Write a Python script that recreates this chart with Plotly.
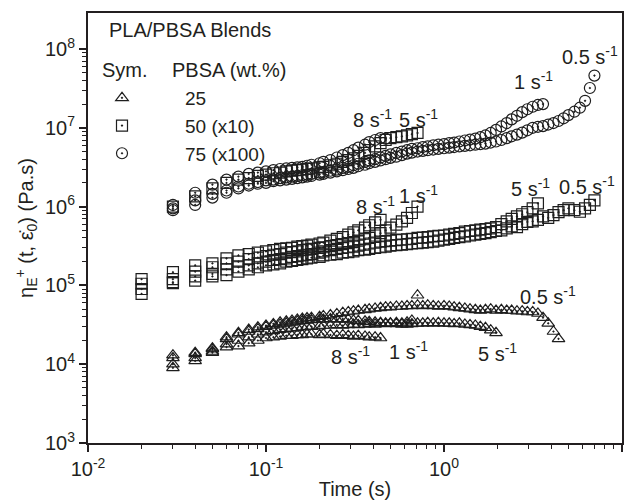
import plotly.graph_objects as go

# shared time grid (s)
T = [0.02, 0.03, 0.04, 0.05, 0.06, 0.07, 0.08, 0.09, 0.10, 0.11, 0.12, 0.13, 0.14, 0.15,
     0.16, 0.17, 0.18, 0.20, 0.21, 0.23, 0.25, 0.27, 0.29, 0.31, 0.33, 0.36, 0.38, 0.41,
     0.44, 0.47, 0.50, 0.54, 0.58, 0.62, 0.66, 0.71, 0.76, 0.81, 0.87, 0.93, 1.00, 1.07,
     1.14, 1.22, 1.31, 1.40, 1.50, 1.60, 1.71, 1.83, 1.96, 2.10, 2.25, 2.40, 2.57, 2.75,
     2.94, 3.15, 3.37, 3.60, 3.85, 4.12, 4.40, 4.70, 5.00, 5.40, 5.80, 6.20, 6.60, 7.00]

# PBSA 25 wt.% (triangles)
tri_8 = [None, 0.9e4, 1.1e4, 1.4e4, 1.65e4, 1.7e4, 1.85e4, 2.0e4, 2.15e4, 2.2e4, 2.25e4, 2.3e4,
         2.3e4, 2.35e4, 2.35e4, 2.4e4, 2.4e4, 2.35e4, 2.4e4, 2.35e4, 2.3e4, 2.35e4, 2.3e4,
         2.25e4, 2.3e4, 2.25e4, 2.2e4, 2.2e4, 2.15e4]
tri_1 = [None, 1.0e4, 1.2e4, 1.45e4, 1.8e4, 2.0e4, 2.2e4, 2.4e4, 2.55e4, 2.65e4, 2.75e4, 2.8e4,
         2.85e4, 2.9e4, 2.95e4, 3.0e4, 3.0e4, 3.05e4, 3.1e4, 3.1e4, 3.15e4, 3.1e4, 3.15e4,
         3.2e4, 3.15e4, 3.2e4, 3.25e4, 3.2e4, 3.3e4, 3.25e4, 3.3e4, 3.35e4, 3.3e4, 3.4e4,
         3.6e4, 7.5e4]
tri_5 = [None, 1.2e4, 1.35e4, 1.55e4, 2.1e4, 2.4e4, 2.6e4, 2.8e4, 3.0e4, 3.1e4, 3.2e4, 3.3e4,
         3.4e4, 3.5e4, 3.55e4, 3.6e4, 3.65e4, 3.7e4, 3.7e4, 3.75e4, 3.7e4, 3.75e4, 3.7e4,
         3.6e4, 3.55e4, 3.5e4, 3.45e4, 3.4e4, 3.35e4, 3.3e4, 3.3e4, 3.25e4, 3.2e4, 3.2e4,
         3.25e4, 3.3e4, 3.3e4, 3.35e4, 3.3e4, 3.35e4, 3.3e4, 3.3e4, 3.25e4, 3.3e4, 3.2e4,
         3.15e4, 3.1e4, 3.0e4, 2.9e4, 2.7e4, 2.5e4]
tri_05 = [None, 1.3e4, 1.4e4, 1.6e4, 2.2e4, 2.5e4, 2.75e4, 2.95e4, 3.1e4, 3.25e4, 3.4e4, 3.5e4,
          3.6e4, 3.7e4, 3.8e4, 3.85e4, 3.9e4, 4.0e4, 4.1e4, 4.2e4, 4.35e4, 4.5e4, 4.6e4,
          4.7e4, 4.8e4, 4.9e4, 5.0e4, 5.1e4, 5.2e4, 5.3e4, 5.3e4, 5.4e4, 5.4e4, 5.5e4,
          5.5e4, 5.6e4, 5.5e4, 5.6e4, 5.5e4, 5.4e4, 5.5e4, 5.4e4, 5.3e4, 5.2e4, 5.1e4,
          5.0e4, 4.9e4, 4.8e4, 4.9e4, 5.0e4, 4.8e4, 4.9e4, 4.8e4, 4.8e4, 4.7e4, 4.7e4,
          4.6e4, 4.6e4, 4.4e4, 3.9e4, 3.3e4, 2.6e4, 2.1e4]

# PBSA 50 wt.% (x10, squares)
sq_8 = [1.2e5, 1.47e5, 1.8e5, 1.9e5, 2.2e5, 2.4e5, 2.5e5, 2.6e5, 2.7e5, 2.8e5, 2.9e5, 2.95e5,
        3.0e5, 3.1e5, 3.15e5, 3.2e5, 3.3e5, 3.4e5, 3.5e5, 3.7e5, 3.9e5, 4.1e5, 4.4e5, 4.7e5,
        5.0e5, 5.4e5, 5.8e5, 6.3e5, 6.8e5]
sq_1 = [1.05e5, 1.2e5, 1.5e5, 1.7e5, 1.9e5, 2.0e5, 2.15e5, 2.25e5, 2.35e5, 2.45e5, 2.5e5,
        2.6e5, 2.65e5, 2.7e5, 2.8e5, 2.85e5, 2.9e5, 3.0e5, 3.05e5, 3.15e5, 3.25e5, 3.35e5,
        3.45e5, 3.55e5, 3.7e5, 3.85e5, 4.0e5, 4.3e5, 4.6e5, 5.0e5, 5.4e5, 5.9e5, 6.5e5,
        7.2e5, 8.3e5, 1.0e6]
sq_5 = [9.0e4, 1.1e5, 1.3e5, 1.4e5, 1.6e5, 1.7e5, 1.8e5, 1.9e5, 2.0e5, 2.1e5, 2.15e5, 2.2e5,
        2.3e5, 2.35e5, 2.4e5, 2.45e5, 2.5e5, 2.6e5, 2.7e5, 2.8e5, 2.9e5, 3.0e5, 3.05e5,
        3.1e5, 3.2e5, 3.3e5, 3.4e5, 3.5e5, 3.6e5, 3.65e5, 3.7e5, 3.75e5, 3.8e5, 3.85e5,
        3.9e5, 4.0e5, 4.05e5, 4.1e5, 4.2e5, 4.25e5, 4.3e5, 4.4e5, 4.5e5, 4.6e5, 4.8e5,
        4.9e5, 5.0e5, 5.1e5, 5.2e5, 5.3e5, 5.5e5, 6.0e5, 6.5e5, 7.0e5, 7.5e5, 8.0e5, 8.5e5,
        9.5e5, 1.1e6]
sq_05 = [7.8e4, 1.07e5, 1.15e5, 1.3e5, 1.35e5, 1.5e5, 1.6e5, 1.7e5, 1.8e5, 1.85e5, 1.9e5,
         2.0e5, 2.05e5, 2.1e5, 2.15e5, 2.2e5, 2.25e5, 2.3e5, 2.4e5, 2.45e5, 2.5e5, 2.6e5,
         2.65e5, 2.7e5, 2.8e5, 2.85e5, 2.9e5, 3.0e5, 3.05e5, 3.1e5, 3.2e5, 3.25e5, 3.3e5,
         3.35e5, 3.4e5, 3.45e5, 3.5e5, 3.55e5, 3.6e5, 3.7e5, 3.8e5, 3.9e5, 4.0e5, 4.1e5,
         4.2e5, 4.3e5, 4.4e5, 4.5e5, 4.6e5, 4.75e5, 4.9e5, 5.0e5, 5.3e5, 5.6e5, 5.5e5,
         6.0e5, 6.4e5, 6.5e5, 6.8e5, 7.5e5, 7.2e5, 7.8e5, 8.5e5, 9.0e5, 9.5e5, 9.0e5,
         8.6e5, 9.5e5, 1.05e6, 1.2e6]

# PBSA 75 wt.% (x100, circles; 5 s-1 drawn with squares)
ci_8 = [None, 1.05e6, 1.5e6, 1.9e6, 2.2e6, 2.4e6, 2.6e6, 2.7e6, 2.8e6, 2.9e6, 3.0e6, 3.05e6,
        3.1e6, 3.15e6, 3.2e6, 3.3e6, 3.4e6, 3.55e6, 3.7e6, 3.9e6, 4.2e6, 4.5e6, 4.8e6,
        5.2e6, 5.6e6, 6.1e6, 6.6e6, 7.0e6, 7.4e6, 7.3e6]
ci_5 = [None, 1.0e6, 1.35e6, 1.7e6, 2.0e6, 2.2e6, 2.3e6, 2.45e6, 2.55e6, 2.65e6, 2.7e6,
        2.8e6, 2.85e6, 2.9e6, 2.95e6, 3.0e6, 3.05e6, 3.15e6, 3.2e6, 3.35e6, 3.5e6, 3.7e6,
        3.9e6, 4.1e6, 4.4e6, 4.8e6, 5.2e6, 5.8e6, 6.4e6, 7.0e6, 7.4e6, 7.6e6, 7.8e6,
        8.0e6, 8.3e6, 8.6e6]
ci_1 = [None, 0.95e6, 1.2e6, 1.45e6, 1.6e6, 1.8e6, 1.95e6, 2.05e6, 2.15e6, 2.2e6, 2.3e6,
        2.35e6, 2.4e6, 2.45e6, 2.5e6, 2.55e6, 2.6e6, 2.7e6, 2.75e6, 2.85e6, 2.95e6, 3.1e6,
        3.2e6, 3.35e6, 3.5e6, 3.7e6, 3.85e6, 4.0e6, 4.2e6, 4.4e6, 4.6e6, 4.8e6, 5.0e6,
        5.2e6, 5.4e6, 5.5e6, 5.7e6, 5.8e6, 6.0e6, 6.1e6, 6.2e6, 6.4e6, 6.5e6, 6.7e6,
        6.9e6, 7.1e6, 7.3e6, 7.6e6, 8.0e6, 8.6e6, 9.4e6, 1.04e7, 1.15e7, 1.28e7, 1.42e7,
        1.58e7, 1.72e7, 1.85e7, 1.95e7, 2.0e7]
ci_05 = [None, 0.9e6, 1.05e6, 1.3e6, 1.5e6, 1.7e6, 1.85e6, 1.95e6, 2.0e6, 2.1e6, 2.15e6,
         2.2e6, 2.25e6, 2.3e6, 2.35e6, 2.4e6, 2.45e6, 2.55e6, 2.6e6, 2.7e6, 2.8e6, 2.9e6,
         3.0e6, 3.1e6, 3.25e6, 3.4e6, 3.55e6, 3.7e6, 3.85e6, 4.0e6, 4.15e6, 4.3e6, 4.5e6,
         4.7e6, 4.85e6, 5.0e6, 5.1e6, 5.2e6, 5.3e6, 5.4e6, 5.5e6, 5.6e6, 5.7e6, 5.8e6,
         5.9e6, 6.0e6, 6.1e6, 6.2e6, 6.3e6, 6.5e6, 6.7e6, 7.0e6, 7.4e6, 7.8e6, 8.2e6,
         8.7e6, 9.3e6, 1.0e7, 1.03e7, 1.05e7, 1.1e7, 1.15e7, 1.22e7, 1.32e7, 1.45e7, 1.6e7,
         1.8e7, 2.2e7, 3.2e7, 4.6e7]

legend_names = ["25", "50 (x10)", "75 (x100)"]
rate_labels = ["8 s<sup>-1</sup>", "5 s<sup>-1</sup>", "1 s<sup>-1</sup>", "0.5 s<sup>-1</sup>"]

INK = "#231f20"
MK = "#1e1e1e"
FONT = "Liberation Sans, Arial, sans-serif"

groups = [
    (legend_names[0], "triangle-up-open-dot", [tri_05, tri_8, tri_1, tri_5], [None] * 4),
    (legend_names[1], "square-open-dot", [sq_05, sq_8, sq_1, sq_5], [None] * 4),
    (legend_names[2], "circle-open-dot", [ci_05, ci_8, ci_1, ci_5],
     [None, None, None, "square-open-dot"]),
]

fig = go.Figure()
for name, sym, series, alt in groups:
    for k, vals in enumerate(series):
        fig.add_trace(go.Scatter(
            x=T[:len(vals)], y=vals, mode="markers", name=name,
            showlegend=(k == 0),
            marker=dict(symbol=alt[k] or sym, size=11, color=MK,
                        line=dict(color=MK, width=1.2)),
        ))

def px2paper(px, py):
    return (px - 88) / 534, 1 - (py - 13) / 430

annos = []
def add_text(txt, px, py, anchor="center", size=20):
    x, y = px2paper(px, py)
    annos.append(dict(text=txt, x=x, y=y, xref="paper", yref="paper",
                      xanchor=anchor, yanchor="middle", showarrow=False,
                      font=dict(family=FONT, size=size, color=INK)))

# circles group labels
add_text(rate_labels[0], 372, 118)
add_text(rate_labels[1], 418, 118)
add_text(rate_labels[2], 533, 80)
add_text(rate_labels[3], 590, 55)
# squares group labels
add_text(rate_labels[0], 375, 205)
add_text(rate_labels[2], 418, 195)
add_text(rate_labels[1], 530, 187)
add_text(rate_labels[3], 587, 185)
# triangles group labels
add_text(rate_labels[0], 350, 355)
add_text(rate_labels[2], 408, 350)
add_text(rate_labels[1], 497, 352)
add_text(rate_labels[3], 548, 295)
# legend header texts
add_text("PLA/PBSA Blends", 107, 30, anchor="left", size=20)
add_text("Sym.", 100, 70, anchor="left", size=20)
add_text("PBSA (wt.%)", 170, 70, anchor="left", size=20)

x_ticks = [0.01, 0.1, 1, 10]
x_text = ["10<sup>-2</sup>", "10<sup>-1</sup>", "10<sup>0</sup>", "10<sup>1</sup>"]
y_ticks = [1e3, 1e4, 1e5, 1e6, 1e7, 1e8]
y_text = ["10<sup>3</sup>", "10<sup>4</sup>", "10<sup>5</sup>", "10<sup>6</sup>",
          "10<sup>7</sup>", "10<sup>8</sup>"]

def minor_vals(e0, e1):
    return [m * 10 ** e for e in range(e0, e1) for m in range(2, 10)]

axis_common = dict(type="log", showgrid=False, zeroline=False, ticks="outside",
                   ticklen=7, tickwidth=1.5, tickcolor=INK, linecolor=INK, linewidth=2,
                   mirror=True, tickmode="array", automargin=False,
                   tickfont=dict(family=FONT, size=20, color=INK))

fig.update_xaxes(**axis_common, range=[-2, 1], tickvals=x_ticks, ticktext=x_text,
                 minor=dict(tickmode="array", tickvals=minor_vals(-2, 1), ticks="outside",
                            ticklen=4, tickwidth=1.2, tickcolor=INK, showgrid=False),
                 title=dict(text="Time (s)", font=dict(family=FONT, size=20, color=INK),
                            standoff=9))
fig.update_yaxes(**axis_common, range=[3, 8.457], tickvals=y_ticks, ticktext=y_text,
                 minor=dict(tickmode="array", tickvals=minor_vals(3, 8), ticks="outside",
                            ticklen=4, tickwidth=1.2, tickcolor=INK, showgrid=False),
                 title=dict(text="\u03b7<sub>E</sub><sup>+</sup> (t, \u03b5\u0307<sub>0</sub>) (Pa.s)",
                            font=dict(family=FONT, size=20, color=INK), standoff=6))

fig.update_layout(
    width=636, height=500,
    margin=dict(l=88, r=14, t=13, b=57),
    paper_bgcolor="white", plot_bgcolor="white",
    annotations=annos,
    legend=dict(x=(59 - 88) / 534, y=1 - (79 - 13) / 430, xanchor="left", yanchor="top",
                bgcolor="rgba(0,0,0,0)", itemwidth=116,
                font=dict(family=FONT, size=19, color=INK)),
)

fig.write_html("out.html")
